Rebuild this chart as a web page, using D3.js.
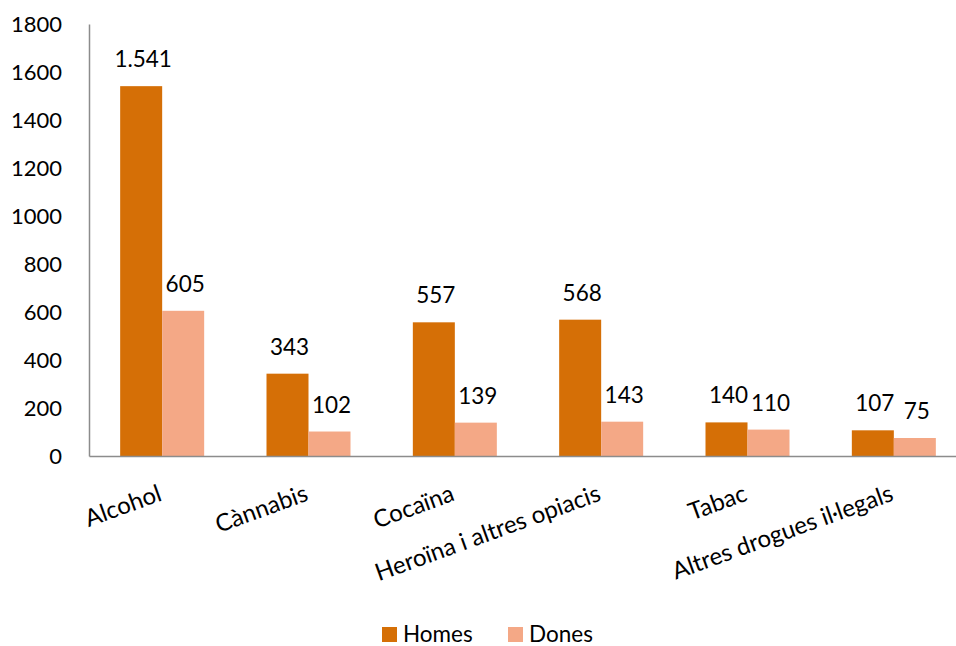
<!DOCTYPE html>
<html>
<head>
<meta charset="utf-8">
<script src="https://cdn.jsdelivr.net/npm/d3@7"></script>
<style>
  body { margin: 0; background: #fff; }
  svg { display: block; font-family: Lato, "Open Sans", sans-serif; }
</style>
</head>
<body>
<svg id="chart" width="956" height="646"></svg>
<script>
// data
var categories = [ 'Alcohol', 'Cànnabis', 'Cocaïna', 'Heroïna i altres opiacis', 'Tabac', 'Altres drogues il·legals' ];
var homes = [ 1541, 343, 557, 568, 140, 107 ];
var dones = [ 605, 102, 139, 143, 110, 75 ];
var seriesNames = [ 'Homes', 'Dones' ];
var yTicks = [ 0, 200, 400, 600, 800, 1000, 1200, 1400, 1600, 1800 ];

var colors = { Homes: '#d56f06', Dones: '#f4a886' };

var svg = d3.select( '#chart' );
var plot = { left: 89, right: 967, top: 24, bottom: 456 };

var x = d3.scaleBand().domain( categories ).range( [ plot.left, plot.right ] );
var xs = d3.scaleBand().domain( seriesNames ).range( [ 0, x.bandwidth() ] ).paddingInner( 0 ).paddingOuter( 0.742 );
var y = d3.scaleLinear().domain( [ 0, 1800 ] ).range( [ plot.bottom, plot.top ] );

var ca = d3.formatLocale( { decimal: ',', thousands: '.', grouping: [ 3 ], currency: [ '', ' €' ] } );
var fmt = ca.format( ',d' );

var rows = categories.map( function( c, i ) {
    return { cat: c, values: [ { key: 'Homes', v: homes[ i ] }, { key: 'Dones', v: dones[ i ] } ] };
});

// y axis labels
var yAxis = d3.axisLeft( y ).tickValues( yTicks ).tickSize( 0 ).tickPadding( 27 ).tickFormat( d3.format( 'd' ) );
var gy = svg.append( 'g' ).attr( 'transform', 'translate(' + plot.left + ',0)' ).call( yAxis );
gy.select( '.domain' ).attr( 'stroke', '#8c8c8c' ).attr( 'stroke-width', 1.5 );
gy.selectAll( 'text' ).attr( 'font-size', 22 ).attr( 'fill', '#000' ).attr( 'font-family', 'Lato, sans-serif' );

// bars
var groups = svg.append( 'g' ).selectAll( 'g' ).data( rows ).join( 'g' )
    .attr( 'transform', function( d ) { return 'translate(' + x( d.cat ) + ',0)'; } );

groups.selectAll( 'rect' ).data( function( d ) { return d.values; } ).join( 'rect' )
    .attr( 'x', function( d ) { return xs( d.key ); } )
    .attr( 'width', xs.bandwidth() )
    .attr( 'y', function( d ) { return y( d.v ); } )
    .attr( 'height', function( d ) { return y( 0 ) - y( d.v ); } )
    .attr( 'fill', function( d ) { return colors[ d.key ]; } );

groups.selectAll( 'text' ).data( function( d ) { return d.values; } ).join( 'text' )
    .attr( 'x', function( d ) { return xs( d.key ) + xs.bandwidth() / 2 + 2; } )
    .attr( 'y', function( d ) { return y( d.v ) - 19; } )
    .attr( 'text-anchor', 'middle' )
    .attr( 'font-size', 22.5 )
    .attr( 'fill', '#000' )
    .text( function( d ) { return fmt( d.v ); } );

// x axis
var xAxis = d3.axisBottom( x ).tickSize( 0 ).tickFormat( '' );
var gx = svg.append( 'g' ).attr( 'transform', 'translate(0,' + plot.bottom + ')' ).call( xAxis );
gx.select( '.domain' ).attr( 'stroke', '#8c8c8c' ).attr( 'stroke-width', 1.5 );

svg.append( 'g' ).selectAll( 'text' ).data( categories ).join( 'text' )
    .attr( 'transform', function( d ) { return 'translate(' + ( x( d ) + x.bandwidth() / 2 + 1 ) + ',500) rotate(-20)'; } )
    .attr( 'text-anchor', 'end' )
    .attr( 'font-size', 24 )
    .attr( 'fill', '#000' )
    .text( function( d ) { return d; } );

// legend
var legendX = [ 382, 508 ];
var legend = svg.append( 'g' ).selectAll( 'g' ).data( seriesNames ).join( 'g' )
    .attr( 'transform', function( d, i ) { return 'translate(' + legendX[ i ] + ',627)'; } );
legend.append( 'rect' ).attr( 'width', 15 ).attr( 'height', 15 ).attr( 'fill', function( d ) { return colors[ d ]; } );
legend.append( 'text' ).attr( 'x', 21 ).attr( 'y', 15 ).attr( 'font-size', 22.5 ).attr( 'fill', '#000' )
    .text( function( d ) { return d; } );
</script>
</body>
</html>
